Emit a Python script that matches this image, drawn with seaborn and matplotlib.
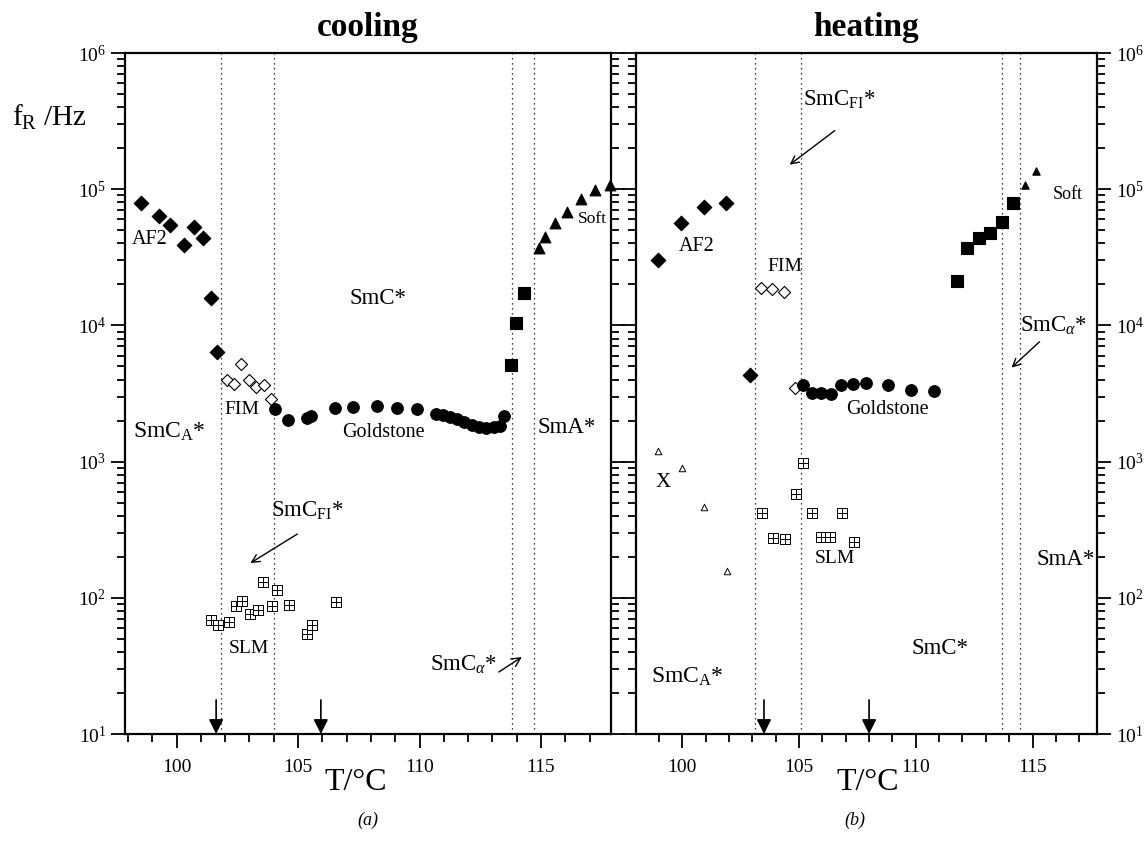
import numpy as np
import pandas as pd
import matplotlib
matplotlib.use("Agg")
import matplotlib.pyplot as plt
import seaborn as sns
from matplotlib.path import Path
from matplotlib.ticker import LogLocator, NullFormatter, MultipleLocator

# ---------------- data ----------------
# (a) cooling
af2_c_T = [98.55, 99.26, 99.74, 100.30, 100.70, 101.10, 101.40, 101.67]
af2_c_f = [79000, 64000, 55000, 39000, 52500, 44000, 15800, 6400]
fim_c_T = [102.07, 102.38, 102.67, 102.97, 103.27, 103.59, 103.89]
fim_c_f = [4000, 3700, 5200, 4000, 3500, 3650, 2900]
gold_c_T = [104.05, 104.57, 105.35, 105.53, 106.53, 107.28, 108.23, 109.09, 109.88,
            110.66, 110.95, 111.25, 111.55, 111.85, 112.15, 112.45, 112.75, 113.05,
            113.30, 113.47]
gold_c_f = [2440, 2020, 2100, 2160, 2460, 2500, 2570, 2460, 2430,
            2230, 2190, 2120, 2040, 1960, 1870, 1780, 1760, 1780,
            1830, 2170]
sq_c_T = [113.75, 113.99, 114.32]
sq_c_f = [5100, 10400, 17200]
tri_c_T = [114.91, 115.18, 115.56, 116.07, 116.66, 117.24, 117.82]
tri_c_f = [36800, 44800, 56200, 68400, 84700, 98600, 107000]
slm_c_T = [101.42, 101.70, 102.15, 102.45, 102.70, 103.04, 103.37, 103.57, 103.92,
           104.12, 104.61, 105.39, 105.56, 106.58]
slm_c_f = [68.7, 63, 66, 87.5, 94.6, 76, 81, 131, 87, 114, 89, 54, 63, 92.6]

# (b) heating
af2_h_T = [98.97, 99.94, 100.93, 101.87, 102.90]
af2_h_f = [30200, 56000, 74500, 79600, 4330]
fim_h_T = [103.37, 103.85, 104.36, 104.83]
fim_h_f = [18700, 18400, 17500, 3490]
gold_h_T = [105.18, 105.54, 105.94, 106.36, 106.80, 107.32, 107.85, 108.82, 109.78, 110.79]
gold_h_f = [3630, 3170, 3200, 3130, 3630, 3720, 3800, 3650, 3360, 3300]
sq_h_T = [111.75, 112.18, 112.72, 113.18, 113.68, 114.18]
sq_h_f = [21200, 36800, 43600, 48000, 57100, 79600]
tri_h_T = [114.68, 115.15]
tri_h_f = [107000, 137000]
x_h_T = [98.97, 99.97, 100.94, 101.93]
x_h_f = [1200, 893, 467, 157]
slm_h_T = [103.40, 103.90, 104.40, 104.86, 105.16, 105.57, 105.94, 106.33, 106.83, 107.37]
slm_h_f = [422, 274, 270, 575, 982, 422, 278, 278, 422, 258]

# transition lines and arrows
lines_c = [101.82, 104.0, 113.8, 114.7]
lines_h = [103.1, 105.08, 113.68, 114.46]
arrows_c = [101.63, 105.94]
arrows_h = [103.5, 108.0]

# ---------------- style ----------------
sns.set_theme(style="ticks")
plt.rcParams["font.family"] = ["Liberation Serif", "DejaVu Serif"]
plt.rcParams["mathtext.fontset"] = "custom"
plt.rcParams["mathtext.rm"] = "Liberation Serif"
plt.rcParams["mathtext.it"] = "Liberation Serif:italic"
plt.rcParams["axes.linewidth"] = 1.6
plt.rcParams["axes.edgecolor"] = "black"
plt.rcParams["text.color"] = "black"
plt.rcParams["axes.labelcolor"] = "black"
plt.rcParams["axes.titlecolor"] = "black"
plt.rcParams["xtick.color"] = "black"
plt.rcParams["ytick.color"] = "black"

# boxed-plus marker for SLM
box_plus = Path(
    [(-1, -1), (1, -1), (1, 1), (-1, 1), (-1, -1),
     (0, -1), (0, 1), (-1, 0), (1, 0)],
    [Path.MOVETO, Path.LINETO, Path.LINETO, Path.LINETO, Path.CLOSEPOLY,
     Path.MOVETO, Path.LINETO, Path.MOVETO, Path.LINETO])

fig = plt.figure(figsize=(11.44, 8.48), dpi=100)
ax1 = fig.add_axes([125 / 1144, 1 - 734 / 848, 486 / 1144, 681 / 848])
ax2 = fig.add_axes([636 / 1144, 1 - 734 / 848, 461 / 1144, 681 / 848])


def pts(ax, T, f, marker, s, fill=True, lw=0.8):
    df = pd.DataFrame({"T": T, "f": f})
    sns.scatterplot(data=df, x="T", y="f", ax=ax, marker=marker, s=s,
                    color="black" if fill else "white",
                    edgecolor="black", linewidth=lw, zorder=3, clip_on=False)


# cooling
pts(ax1, af2_c_T, af2_c_f, "D", 55)
pts(ax1, fim_c_T, fim_c_f, "D", 38, fill=False)
pts(ax1, gold_c_T, gold_c_f, "o", 70)
pts(ax1, sq_c_T, sq_c_f, "s", 70)
pts(ax1, tri_c_T, tri_c_f, "^", 60)
pts(ax1, slm_c_T, slm_c_f, box_plus, 45, fill=False, lw=0.7)

# heating
pts(ax2, af2_h_T, af2_h_f, "D", 55)
pts(ax2, fim_h_T, fim_h_f, "D", 38, fill=False)
pts(ax2, gold_h_T, gold_h_f, "o", 70)
pts(ax2, sq_h_T, sq_h_f, "s", 70)
pts(ax2, tri_h_T, tri_h_f, "^", 28)
pts(ax2, x_h_T, x_h_f, "^", 22, fill=False, lw=0.7)
pts(ax2, slm_h_T, slm_h_f, box_plus, 45, fill=False, lw=0.7)

for ax, xl, vls, arrs in [(ax1, (97.88, 117.88), lines_c, arrows_c),
                          (ax2, (98.02, 117.76), lines_h, arrows_h)]:
    ax.set_yscale("log")
    ax.set_ylim(10, 1e6)
    ax.set_xlim(*xl)
    ax.set_xlabel("")
    ax.set_ylabel("")
    ax.xaxis.set_major_locator(MultipleLocator(5))
    ax.xaxis.set_minor_locator(MultipleLocator(1))
    ax.yaxis.set_major_locator(LogLocator(base=10, numticks=10))
    ax.yaxis.set_minor_locator(LogLocator(base=10, subs=np.arange(2, 10), numticks=20))
    ax.yaxis.set_minor_formatter(NullFormatter())
    ax.tick_params(axis="both", which="both", direction="out", colors="black",
                   labelsize=14, width=1.3)
    ax.tick_params(axis="both", which="major", length=10)
    ax.tick_params(axis="both", which="minor", length=6)
    ax.tick_params(axis="x", pad=8)
    for v in vls:
        ax.axvline(v, color="black", lw=0.9, ls=(0, (1, 3)), zorder=1)
    for a in arrs:
        ax.annotate("", xy=(a, 10), xytext=(a, 10 ** 1.25),
                    arrowprops=dict(arrowstyle="-|>", color="black", lw=1.2,
                                    mutation_scale=22, shrinkA=0, shrinkB=0))

ax1.tick_params(axis="y", which="both", left=True, right=True,
                labelleft=True, labelright=False)
ax2.tick_params(axis="y", which="both", left=True, right=True,
                labelleft=False, labelright=True)

ax1.set_title("cooling", fontweight="bold", fontsize=24, pad=12)
ax2.set_title("heating", fontweight="bold", fontsize=24, pad=12)
fig.text(356 / 1144, 1 - 783 / 848, "T/°C", fontsize=23, ha="center", va="center")
fig.text(868 / 1144, 1 - 783 / 848, "T/°C", fontsize=23, ha="center", va="center")
fig.text(368 / 1144, 1 - 820 / 848, "(a)", fontsize=13, style="italic",
         ha="center", va="center")
fig.text(855 / 1144, 1 - 820 / 848, "(b)", fontsize=13, style="italic",
         ha="center", va="center")
fig.text(12 / 1144, 1 - 117 / 848, r"f$_{\rm R}$ /Hz", fontsize=21,
         ha="left", va="center")

# phase / mode labels
def lab(ax, T, lf, s, size=15):
    ax.text(T, 10 ** lf, s, fontsize=size, ha="center", va="center", zorder=4)


def arrow(ax, T0, l0, T1, l1, mut=14):
    ax.annotate("", xy=(T1, 10 ** l1), xytext=(T0, 10 ** l0),
                arrowprops=dict(arrowstyle="->", color="black", lw=1.0,
                                mutation_scale=mut, shrinkA=0, shrinkB=0))


lab(ax1, 98.9, 4.634, "AF2", 14.5)
lab(ax1, 108.3, 4.20, "SmC*", 16.5)
lab(ax1, 102.7, 3.386, "FIM", 14)
lab(ax1, 99.7, 3.22, r"SmC$_{\rm A}$*", 17)
lab(ax1, 108.5, 3.217, "Goldstone", 14.5)
lab(ax1, 116.05, 3.25, "SmA*", 16.5)
lab(ax1, 117.1, 4.78, "Soft", 12.5)
lab(ax1, 105.4, 2.64, r"SmC$_{\rm FI}$*", 16.5)
arrow(ax1, 104.97, 2.468, 103.04, 2.255)
lab(ax1, 103.0, 1.63, "SLM", 14)
lab(ax1, 111.8, 1.506, r"SmC$_{\alpha}$*", 16.5)
arrow(ax1, 113.26, 1.455, 114.21, 1.565, mut=16)

lab(ax2, 106.75, 5.655, r"SmC$_{\rm FI}$*", 16.5)
arrow(ax2, 106.53, 5.43, 104.6, 5.18)
lab(ax2, 100.6, 4.58, "AF2", 14.5)
lab(ax2, 104.4, 4.43, "FIM", 14)
lab(ax2, 108.8, 3.386, "Goldstone", 14.5)
lab(ax2, 99.17, 2.85, "X", 15)
lab(ax2, 106.53, 2.29, "SLM", 14)
lab(ax2, 116.4, 2.28, "SmA*", 16.5)
lab(ax2, 111.05, 1.63, "SmC*", 16.5)
lab(ax2, 100.2, 1.42, r"SmC$_{\rm A}$*", 17)
lab(ax2, 115.9, 4.0, r"SmC$_{\alpha}$*", 16.5)
arrow(ax2, 115.3, 3.88, 114.1, 3.69)
lab(ax2, 116.5, 4.96, "Soft", 13)

fig.savefig("out.png", dpi=100)
